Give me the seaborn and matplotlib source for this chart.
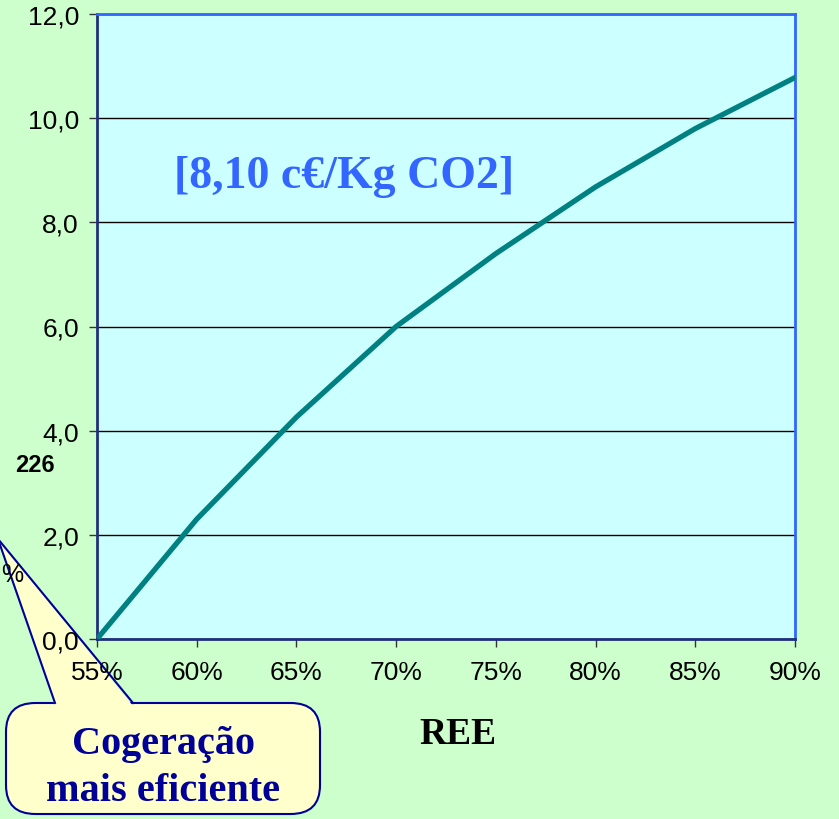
import seaborn as sns
import matplotlib.pyplot as plt
import pandas as pd
from matplotlib.patches import FancyBboxPatch, Polygon
from matplotlib.lines import Line2D
from matplotlib.ticker import FuncFormatter

# dados
ree = [55, 60, 65, 70, 75, 80, 85, 90]
valores = [0.0, 2.3, 4.26, 6.0, 7.4, 8.68, 9.8, 10.78]
yticks = [0, 2, 4, 6, 8, 10, 12]

dados = pd.DataFrame({'REE': ree, 'valor': valores})

W, H = 839, 820
fundo = '#CCFFCC'

fig = plt.figure(figsize=(W / 100, H / 100), dpi=100, facecolor=fundo)
ax = fig.add_axes([97 / W, 1 - 640 / H, (795 - 97) / W, (640 - 15) / H])
ax.set_facecolor('#CCFFFF')

sns.lineplot(x='REE', y='valor', data=dados, color='#008080', linewidth=3.8, ax=ax, zorder=3)

ax.set_xlim(55, 90)
ax.set_ylim(0, 12)
ax.set_xticks(ree)
ax.set_yticks(yticks)
ax.xaxis.set_major_formatter(FuncFormatter(lambda v, p: '%d%%' % v))
ax.yaxis.set_major_formatter(FuncFormatter(lambda v, p: ('%.1f' % v).replace('.', ',')))
ax.tick_params(axis='both', direction='out', length=6, width=1, color='#333333',
               labelsize=19, labelcolor='black')
ax.tick_params(axis='x', pad=9)
ax.tick_params(axis='y', pad=7)
for lab in ax.get_xticklabels() + ax.get_yticklabels():
    lab.set_fontfamily('Liberation Sans')

ax.grid(axis='y', color='black', linewidth=1)
ax.grid(axis='x', visible=False)
ax.set_axisbelow(True)
ax.set_xlabel('')
ax.set_ylabel('')

ax.spines['left'].set_color('#1F2F7F')
ax.spines['bottom'].set_color('#1F2F7F')
ax.spines['top'].set_color('#3366FF')
ax.spines['right'].set_color('#3366FF')
for s in ax.spines.values():
    s.set_linewidth(2)

ax.text(344 / W, 1 - 177 / H, '[8,10 c€/Kg CO2]', transform=fig.transFigure,
        ha='center', va='center', fontsize=33, fontweight='bold',
        family='Liberation Serif', color='#3366FF')

fig.text(458 / W, 1 - 735 / H, 'REE', ha='center', va='center', fontsize=27,
         fontweight='bold', family='Liberation Serif', color='black')

fig.text(35 / W, 1 - 466 / H, '226', ha='center', va='center', fontsize=17,
         fontweight='bold', family='Liberation Sans', color='black')
fig.text(1 / W, 1 - 575 / H, '%', ha='left', va='center', fontsize=18,
         family='Liberation Sans', color='black')

# balao (atras dos eixos e rotulos)
def p(x, y):
    return (x / W, 1 - y / H)

balao = FancyBboxPatch(p(6, 815), (320 - 6) / W, (815 - 704) / H,
                       boxstyle='round,pad=0,rounding_size=0.035',
                       transform=fig.transFigure, facecolor='#FFFFCC',
                       edgecolor='#000099', linewidth=1.5, zorder=-3)
fig.patches.append(balao)
ponta = Polygon([p(-2, 540), p(55, 707), p(133, 707)], closed=True,
                transform=fig.transFigure, facecolor='#FFFFCC',
                edgecolor='none', zorder=-2)
fig.patches.append(ponta)
for xb in (55, 133):
    x0, y0 = p(-2, 540)
    x1, y1 = p(xb, 704)
    fig.lines.append(Line2D([x0, x1], [y0, y1], transform=fig.transFigure,
                            color='#000099', linewidth=1.5, zorder=-1))

fig.text(163 / W, 1 - 745 / H, 'Cogeração', ha='center', va='center', fontsize=29,
         fontweight='bold', family='Liberation Serif', color='#000099', zorder=8)
fig.text(163 / W, 1 - 792 / H, 'mais eficiente', ha='center', va='center', fontsize=29,
         fontweight='bold', family='Liberation Serif', color='#000099', zorder=8)

fig.savefig('out.png', dpi=100, facecolor=fundo)
